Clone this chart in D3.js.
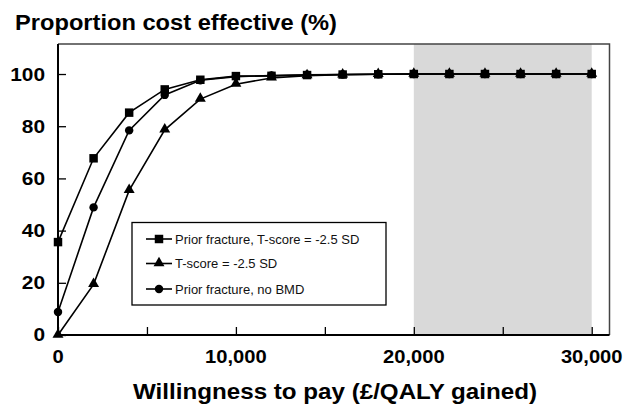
<!DOCTYPE html>
<html>
<head>
<meta charset="utf-8">
<script src="https://cdn.jsdelivr.net/npm/d3@7"></script>
<style>
  html, body { margin: 0; padding: 0; background: #fff; }
  svg { display: block; font-family: "Liberation Sans", Arial, Helvetica, sans-serif; }
</style>
</head>
<body>
<svg id="chart" width="638" height="405"></svg>
<script>
// Willingness-to-pay thresholds (£/QALY gained)
const wtp = [0, 2000, 4000, 6000, 8000, 10000, 12000, 14000, 16000, 18000,
             20000, 22000, 24000, 26000, 28000, 30000];

// Proportion of simulations that are cost effective (%)
const priorFractureTScore = [35.6, 67.7, 85.2, 94.1, 97.8, 99.2, 99.3, 99.6, 99.8, 99.9,
                             100, 100, 100, 100, 100, 100];
const tScoreOnly = [0, 19.4, 55.4, 78.6, 90.4, 96.1, 98.5, 99.4, 99.7, 99.9,
                    100, 100, 100, 100, 100, 100];
const priorFractureNoBMD = [8.8, 48.9, 78.4, 92.0, 97.6, 99.0, 99.4, 99.7, 99.8, 99.9,
                            100, 100, 100, 100, 100, 100];

const seriesNames = ["Prior fracture, T-score = -2.5 SD", "T-score = -2.5 SD", "Prior fracture, no BMD"];
const seriesSymbols = ["square", "triangle", "circle"];

const xTicks = [0, 10000, 20000, 30000];
const xMinorTicks = [5000, 15000, 25000];
const yTicks = [0, 20, 40, 60, 80, 100];
const shadedRange = [20000, 30000];

const svg = d3.select("#chart");
const plotLeft = 58, plotRight = 609.5, plotTop = 44, plotBottom = 335;

const x = d3.scaleLinear().domain([0, 31000]).range([plotLeft, plotRight]);
const y = d3.scaleLinear().domain([0, 111.5]).range([plotBottom, plotTop]);

// shaded threshold band
svg.append("rect")
  .attr("x", x(shadedRange[0]))
  .attr("y", plotTop)
  .attr("width", x(shadedRange[1]) - x(shadedRange[0]))
  .attr("height", plotBottom - plotTop)
  .attr("fill", "#d9d9d9");

// frame: top and right edges
svg.append("path")
  .attr("d", `M${plotLeft},${plotTop}H${plotRight}V${plotBottom}`)
  .attr("fill", "none")
  .attr("stroke", "#444")
  .attr("stroke-width", 1.5);

// y axis with inward ticks
const yAxis = d3.axisRight(y).tickValues(yTicks).tickSize(8).tickFormat("");
const gy = svg.append("g").attr("transform", `translate(${plotLeft},0)`).call(yAxis);
gy.select(".domain").attr("stroke", "#000").attr("stroke-width", 2)
  .attr("d", `M0,${plotTop}V${plotBottom}`);
gy.selectAll(".tick line").attr("stroke", "#000").attr("stroke-width", 1.3);

// tick labels use a slightly widened bold face
svg.append("g").selectAll("text")
  .data(yTicks).join("text")
  .attr("transform", d => `translate(45,${y(d)}) scale(1.16,1)`)
  .attr("dy", "0.36em")
  .attr("text-anchor", "end")
  .attr("font-size", 18)
  .attr("font-weight", "bold")
  .text(d => d);

// x axis with inward ticks
const xAxis = d3.axisTop(x).tickValues(xTicks.concat(xMinorTicks)).tickSize(8).tickFormat("");
const gx = svg.append("g").attr("transform", `translate(0,${plotBottom})`).call(xAxis);
gx.select(".domain").attr("stroke", "#000").attr("stroke-width", 2)
  .attr("d", `M${plotLeft},0H${plotRight}`);
gx.selectAll(".tick line").attr("stroke", "#000").attr("stroke-width", 1.3);

const fmt = d3.format(",");
svg.append("g").selectAll("text")
  .data(xTicks).join("text")
  .attr("transform", d => `translate(${x(d)},363) scale(1.12,1)`)
  .attr("text-anchor", "middle")
  .attr("font-size", 18)
  .attr("font-weight", "bold")
  .text(d => fmt(d));

// titles
svg.append("text")
  .attr("x", 15).attr("y", 29.5)
  .attr("font-size", 22).attr("font-weight", "bold")
  .attr("textLength", 322).attr("lengthAdjust", "spacingAndGlyphs")
  .text("Proportion cost effective (%)");

svg.append("text")
  .attr("x", 133).attr("y", 399)
  .attr("font-size", 22).attr("font-weight", "bold")
  .attr("textLength", 404).attr("lengthAdjust", "spacingAndGlyphs")
  .text("Willingness to pay (£/QALY gained)");

// series
const allSeries = [priorFractureTScore, tScoreOnly, priorFractureNoBMD];
const symbolTypes = { square: d3.symbolSquare, triangle: d3.symbolTriangle, circle: d3.symbolCircle };
const symbolSizes = { square: 72, triangle: 52, circle: 56 };
const line = d3.line().x((d, i) => x(wtp[i])).y(d => y(d));

// draw back-to-front so the square series sits on top
[2, 1, 0].forEach(si => {
  const vals = allSeries[si];
  const g = svg.append("g");
  g.append("path")
    .attr("d", line(vals))
    .attr("fill", "none")
    .attr("stroke", "#000")
    .attr("stroke-width", 1.6);
  const sym = seriesSymbols[si];
  g.selectAll("path.mark")
    .data(vals).join("path")
    .attr("class", "mark")
    .attr("transform", (d, i) => `translate(${x(wtp[i])},${y(d) + (sym === "triangle" ? -0.5 : 0)})`)
    .attr("d", d3.symbol(symbolTypes[sym], symbolSizes[sym]))
    .attr("fill", "#000");
});

// legend
const lg = svg.append("g");
lg.append("rect")
  .attr("x", 132).attr("y", 222.5)
  .attr("width", 254).attr("height", 82.5)
  .attr("fill", "#fff")
  .attr("stroke", "#000")
  .attr("stroke-width", 1.3);
const rowY = [239, 263.5, 289];
seriesNames.forEach((name, i) => {
  const yy = rowY[i];
  lg.append("line")
    .attr("x1", 146).attr("x2", 172)
    .attr("y1", yy).attr("y2", yy)
    .attr("stroke", "#000").attr("stroke-width", 1.6);
  const sym = seriesSymbols[i];
  lg.append("path")
    .attr("transform", `translate(159,${yy + (sym === "triangle" ? -0.5 : 0)})`)
    .attr("d", d3.symbol(symbolTypes[sym], symbolSizes[sym]))
    .attr("fill", "#000");
  lg.append("text")
    .attr("x", 175).attr("y", yy)
    .attr("dy", "0.35em")
    .attr("font-size", 13)
    .attr("fill", "#111")
    .text(name);
});
</script>
</body>
</html>
